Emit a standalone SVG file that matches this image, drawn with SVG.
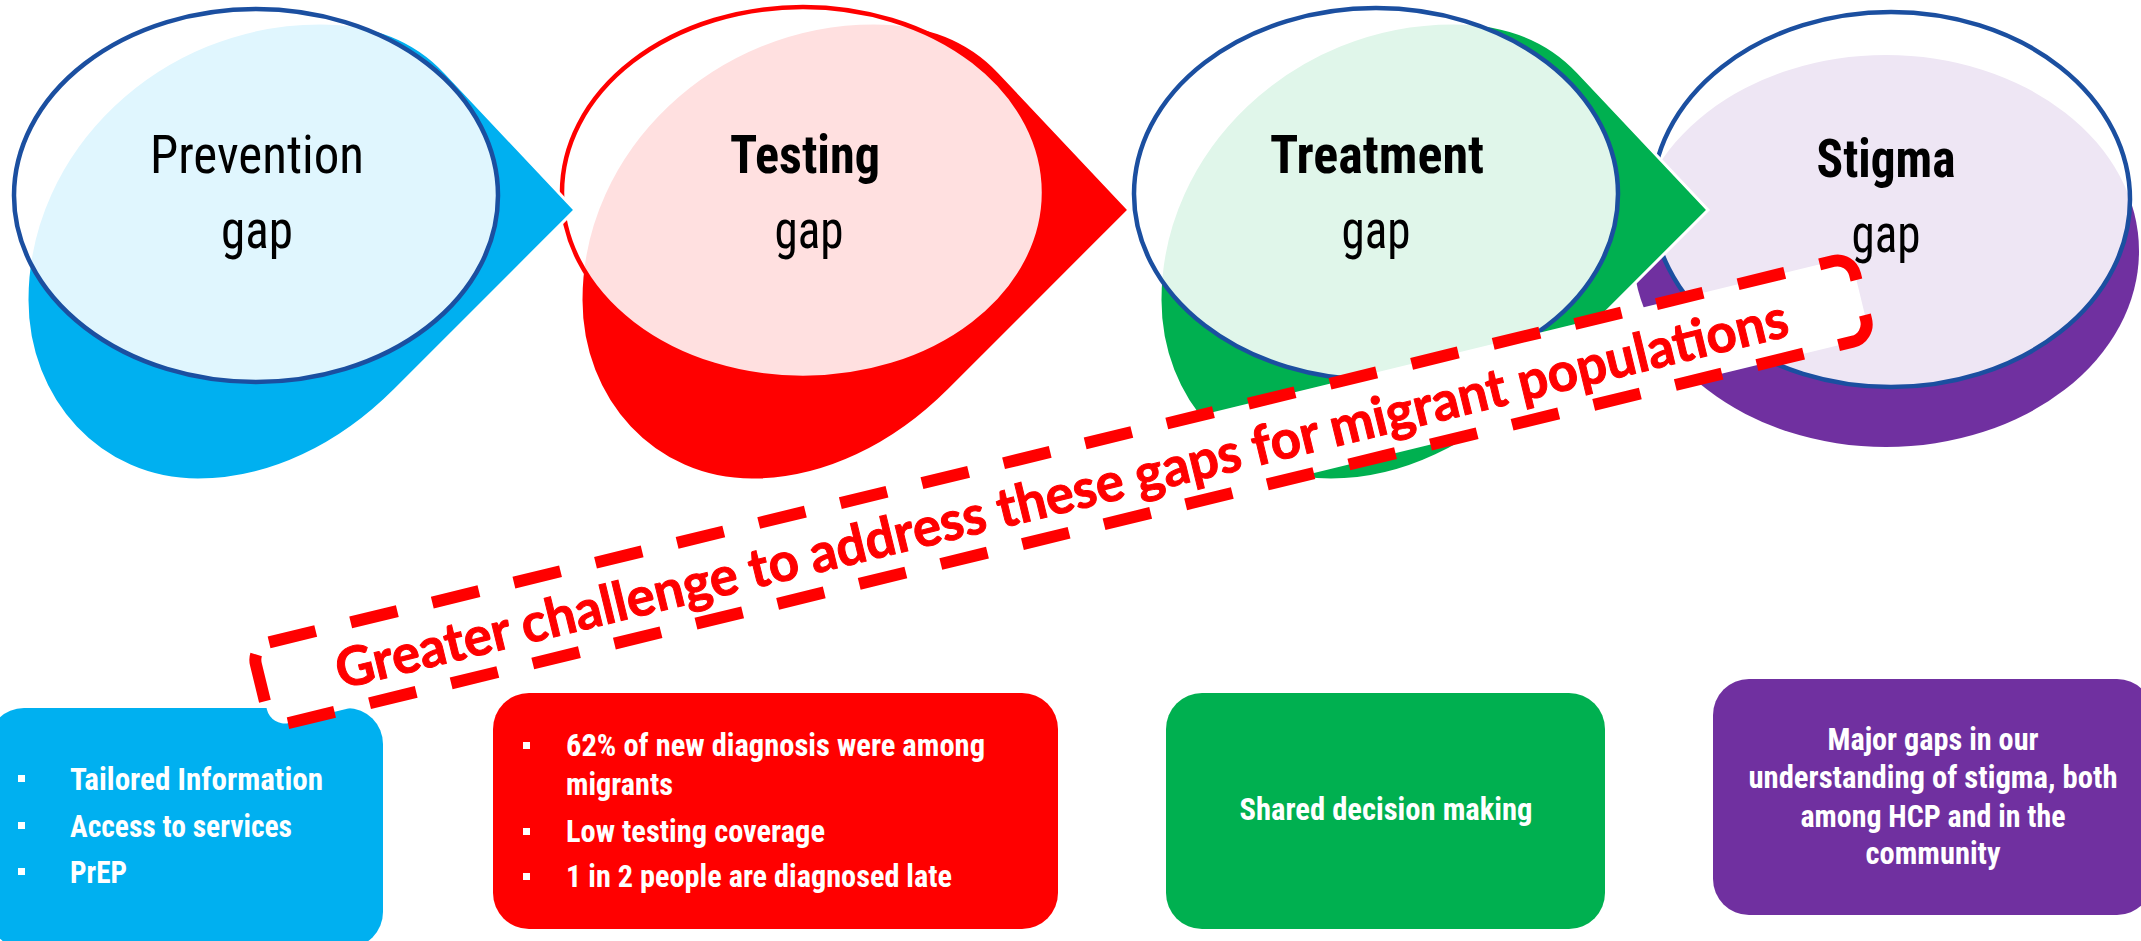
<svg xmlns="http://www.w3.org/2000/svg" xmlns:xlink="http://www.w3.org/1999/xlink" width="2141" height="941" viewBox="0 0 2141 941">
<defs>
<path id="tear" d="M 575,210 L 445,72 C 415,40 375,23 320,23 C 160,23 27,150 27,300 C 27,400 100,480 198,480 C 270,480 340,445 395,390 Z"/>
<style>
.tear{stroke:#fff;stroke-width:3;stroke-linejoin:miter}
.oval{fill:#fff;fill-opacity:0.88;stroke-width:4.5}
.ttl{font-family:Roboto,"Liberation Sans",sans-serif;font-stretch:condensed;font-size:53px;fill:#000;text-anchor:middle}
.bold{font-weight:700}
.box{font-family:Roboto,"Liberation Sans",sans-serif;font-stretch:condensed;font-size:32px;font-weight:700;fill:#fff}
.mid{text-anchor:middle}
.bul{fill:#fff}
.call{font-family:Lato,"Liberation Sans",sans-serif;font-size:54px;font-weight:700;fill:#f00;stroke:#f00;stroke-width:1;text-anchor:middle}
</style>
</defs>
<rect width="2141" height="941" fill="#fff"/>

<g id="node-stigma">
<ellipse cx="1886" cy="251" rx="253" ry="196" fill="#7030A0"/>
<ellipse class="oval" cx="1891" cy="199.5" rx="239" ry="187.5" stroke="#1B4FA0"/>
<text class="ttl bold" x="1886" y="177" textLength="139" lengthAdjust="spacingAndGlyphs">Stigma</text>
<text class="ttl" x="1886" y="252" textLength="69" lengthAdjust="spacingAndGlyphs">gap</text>
</g>

<g id="node-treatment">
<use xlink:href="#tear" href="#tear" class="tear" fill="#00B050" transform="translate(1133,0)"/>
<ellipse class="oval" cx="1376" cy="194" rx="242" ry="186" stroke="#1B4FA0"/>
<text class="ttl bold" x="1377" y="173" textLength="214" lengthAdjust="spacingAndGlyphs">Treatment</text>
<text class="ttl" x="1376" y="248" textLength="69" lengthAdjust="spacingAndGlyphs">gap</text>
</g>

<g id="node-testing">
<use xlink:href="#tear" href="#tear" class="tear" fill="#FF0000" transform="translate(554,0)"/>
<ellipse class="oval" cx="803" cy="192.5" rx="241" ry="185.5" stroke="#FF0000"/>
<text class="ttl bold" x="805" y="173" textLength="150" lengthAdjust="spacingAndGlyphs">Testing</text>
<text class="ttl" x="809" y="248" textLength="69" lengthAdjust="spacingAndGlyphs">gap</text>
</g>

<g id="node-prevention">
<use xlink:href="#tear" href="#tear" class="tear" fill="#00B0F0"/>
<ellipse class="oval" cx="256" cy="195.5" rx="242" ry="186.5" stroke="#1B4FA0"/>
<text class="ttl" x="257" y="173" textLength="214" lengthAdjust="spacingAndGlyphs">Prevention</text>
<text class="ttl" x="257" y="248" textLength="72" lengthAdjust="spacingAndGlyphs">gap</text>
</g>

<g id="connectors"></g>

<g id="box-prevention">
<rect x="-12" y="708" width="395" height="240" rx="36" fill="#00B0F0"/>
<rect class="bul" x="18" y="775" width="7" height="7"/>
<rect class="bul" x="18" y="822" width="7" height="7"/>
<rect class="bul" x="18" y="868" width="7" height="7"/>
<text class="box" x="70" y="790" textLength="253" lengthAdjust="spacingAndGlyphs">Tailored Information</text>
<text class="box" x="70" y="837" textLength="222" lengthAdjust="spacingAndGlyphs">Access to services</text>
<text class="box" x="70" y="883" textLength="57" lengthAdjust="spacingAndGlyphs">PrEP</text>
</g>

<g id="box-testing">
<rect x="493" y="693" width="565" height="236" rx="36" fill="#FF0000"/>
<rect class="bul" x="523" y="742" width="7" height="7"/>
<rect class="bul" x="523" y="828" width="7" height="7"/>
<rect class="bul" x="523" y="873" width="7" height="7"/>
<text class="box" x="566" y="756" textLength="419" lengthAdjust="spacingAndGlyphs">62% of new diagnosis were among</text>
<text class="box" x="566" y="795" textLength="107" lengthAdjust="spacingAndGlyphs">migrants</text>
<text class="box" x="566" y="842" textLength="259" lengthAdjust="spacingAndGlyphs">Low testing coverage</text>
<text class="box" x="566" y="887" textLength="386" lengthAdjust="spacingAndGlyphs">1 in 2 people are diagnosed late</text>
</g>

<g id="box-treatment">
<rect x="1166" y="693" width="439" height="236" rx="36" fill="#00B050"/>
<text class="box mid" x="1386" y="820" textLength="293" lengthAdjust="spacingAndGlyphs">Shared decision making</text>
</g>

<g id="box-stigma">
<rect x="1713" y="679" width="440" height="236" rx="36" fill="#7030A0"/>
<text class="box mid" x="1933" y="750" textLength="211" lengthAdjust="spacingAndGlyphs">Major gaps in our</text>
<text class="box mid" x="1933" y="788" textLength="369" lengthAdjust="spacingAndGlyphs">understanding of stigma, both</text>
<text class="box mid" x="1933" y="827" textLength="265" lengthAdjust="spacingAndGlyphs">among HCP and in the</text>
<text class="box mid" x="1933" y="864" textLength="135" lengthAdjust="spacingAndGlyphs">community</text>
</g>

<g id="callout" transform="translate(1061,492) rotate(-13.7)">
<rect x="-823" y="-41.5" width="1646" height="83" rx="18" fill="#fff" stroke="#FF0000" stroke-width="12" stroke-dasharray="48 36"/>
<text class="call" x="0" y="21" textLength="1493" lengthAdjust="spacingAndGlyphs">Greater challenge to address these gaps for migrant populations</text>
</g>
</svg>
